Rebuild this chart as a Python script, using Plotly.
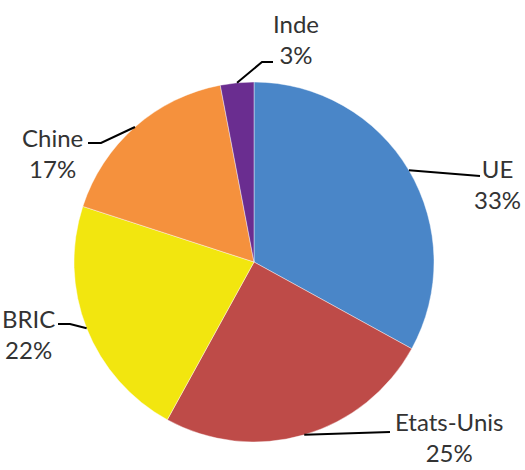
import math
import plotly.graph_objects as go

labels = ["UE", "Etats-Unis", "BRIC", "Chine", "Inde"]
values = [33, 25, 22, 17, 3]
colors = ["#4A86C8", "#BE4B48", "#F2E60F", "#F5913D", "#6A2D90"]

W, H = 525, 470
CX, CY, R = 254, 262, 180

# label block centers (pixels) and leader-line elbows
label_pos = {
    "UE": (497, 184),
    "Etats-Unis": (449, 437),
    "BRIC": (28, 334),
    "Chine": (52, 153),
    "Inde": (296, 39),
}
leader_ends = {
    "UE": [(480, 176)],
    "Etats-Unis": [(390, 432)],
    "BRIC": [(70, 324), (58, 324)],
    "Chine": [(101, 143), (88, 143)],
    "Inde": [(262, 62), (273, 62)],
}

def px(x):
    return x / W

def py(y):
    return 1 - y / H

fig = go.Figure()
fig.add_trace(go.Pie(
    labels=labels,
    values=values,
    sort=False,
    direction="clockwise",
    rotation=0,
    marker=dict(colors=colors, line=dict(color="rgba(255,255,255,0.6)", width=0.7)),
    textinfo="none",
    hoverinfo="label+percent",
    showlegend=False,
    domain=dict(x=[px(CX - R), px(CX + R)], y=[py(CY + R), py(CY - R)]),
))

total = sum(values)
cum = 0
shapes = []
annotations = []
for lab, v in zip(labels, values):
    mid = (cum + v / 2) / total * 2 * math.pi
    cum += v
    sx = CX + R * math.sin(mid)
    sy = CY - R * math.cos(mid)
    pts = [(sx, sy)] + leader_ends[lab]
    path = "M " + " L ".join(f"{px(x):.5f},{py(y):.5f}" for x, y in pts)
    shapes.append(dict(type="path", path=path, xref="paper", yref="paper",
                       line=dict(color="black", width=2)))
    lx, ly = label_pos[lab]
    pct = round(v / total * 100)
    annotations.append(dict(
        x=px(lx), y=py(ly), xref="paper", yref="paper",
        text=f"{lab}<br>{pct}%", showarrow=False,
        xanchor="center", yanchor="middle", align="center",
        font=dict(family="Lato, Carlito, sans-serif", size=24, color="#333333"),
    ))

fig.update_layout(
    width=W, height=H,
    margin=dict(l=0, r=0, t=0, b=0),
    paper_bgcolor="white",
    plot_bgcolor="white",
    shapes=shapes,
    annotations=annotations,
)

fig.write_html("out.html",
               config={"displayModeBar": False},
               post_script="document.body.style.margin='0';document.body.style.overflow='hidden';")
